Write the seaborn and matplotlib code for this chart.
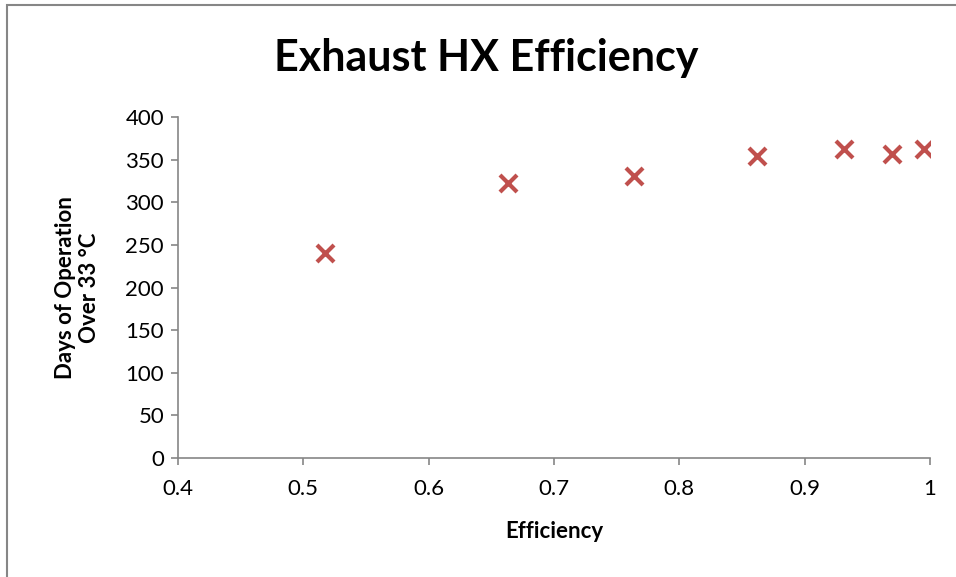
import matplotlib
matplotlib.use('Agg')
import matplotlib.pyplot as plt
import seaborn as sns
import pandas as pd
from matplotlib.patches import Rectangle

# efficiency vs days of operation over 33 C
efficiency = [0.517, 0.663, 0.764, 0.862, 0.931, 0.970, 0.995]
days = [240, 323, 331, 354, 362, 357, 362]
x_ticks = [0.4, 0.5, 0.6, 0.7, 0.8, 0.9, 1.0]
x_labels = ['0.4', '0.5', '0.6', '0.7', '0.8', '0.9', '1']
y_ticks = [0, 50, 100, 150, 200, 250, 300, 350, 400]

data = pd.DataFrame({'Efficiency': efficiency, 'Days': days})

sns.set_style('white')
plt.rcParams['font.family'] = ['Lato', 'DejaVu Sans']
plt.rcParams['text.color'] = 'black'
plt.rcParams['axes.labelcolor'] = 'black'
plt.rcParams['xtick.labelcolor'] = 'black'
plt.rcParams['ytick.labelcolor'] = 'black'

fig = plt.figure(figsize=(9.56, 5.77), dpi=100)
ax = fig.add_axes([0.1862, 0.2062, 0.7866, 0.591])

sns.scatterplot(x='Efficiency', y='Days', data=data, ax=ax, marker='x',
                color='#C0504D', s=150, linewidth=3)

ax.set_xlim(0.4, 1.0)
ax.set_ylim(0, 400)
ax.set_xticks(x_ticks)
ax.set_xticklabels(x_labels)
ax.set_yticks(y_ticks)
ax.tick_params(axis='both', labelsize=16, length=5, width=1.2, color='#868686',
               labelcolor='black', direction='out', left=True, bottom=True)
ax.tick_params(axis='x', pad=10)
ax.tick_params(axis='y', pad=5)
for side in ['top', 'right']:
    ax.spines[side].set_visible(False)
for side in ['left', 'bottom']:
    ax.spines[side].set_color('#868686')
    ax.spines[side].set_linewidth(1.2)

ax.set_xlabel('Efficiency', fontsize=16, fontweight='bold', labelpad=16, color='black')
ax.set_ylabel('Days of Operation\nOver 33 °C', fontsize=16, fontweight='bold',
              labelpad=18, color='black')
fig.suptitle('Exhaust HX Efficiency', x=0.509, y=0.935, fontsize=31,
             fontweight='bold', color='black')

# chart frame
fig.patches.append(Rectangle((7 / 956, -0.05), 1.1, 1.05 - 5 / 577,
                             transform=fig.transFigure, fill=False,
                             edgecolor='#868686', linewidth=1.5))

fig.savefig('out.png', dpi=100)
